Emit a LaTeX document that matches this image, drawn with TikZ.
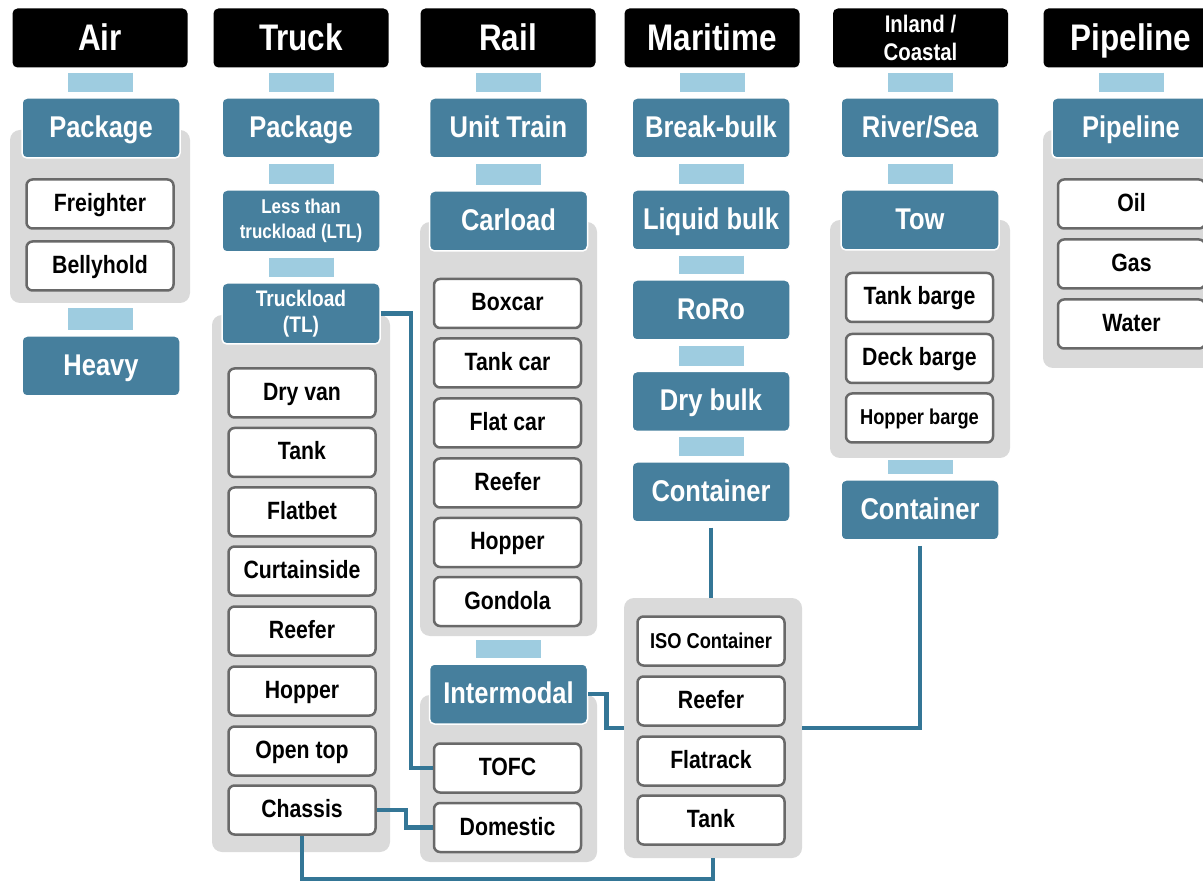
\documentclass[tikz,border=0pt]{standalone}
\usepackage{fontspec}
\setmainfont{Liberation Sans}[FakeStretch=0.85]
\usepackage{xcolor}

\definecolor{modeblue}{RGB}{70,127,157}
\definecolor{tieblue}{RGB}{158,204,224}
\definecolor{panelgray}{RGB}{218,218,218}
\definecolor{itemedge}{RGB}{105,105,105}
\definecolor{routeblue}{RGB}{52,118,150}

\begin{document}
\begin{tikzpicture}[x=1pt, y=-1pt,
	box/.style={rounded corners=5pt, inner sep=0pt, align=center},
	hdr/.style={box, fill=black, text=white, minimum width=175pt, minimum height=59pt,
		font=\bfseries\fontsize{37}{40}\selectfont, text height=27pt, text depth=2pt},
	mode/.style={box, fill=modeblue, draw=white, line width=1.5pt, text=white,
		minimum width=158pt, minimum height=60pt,
		font=\bfseries\fontsize{30}{32}\selectfont, text height=22pt, text depth=3pt},
	item/.style={box, rounded corners=6pt, fill=white, draw=itemedge, line width=2.5pt,
		minimum width=147pt, minimum height=49pt,
		font=\bfseries\fontsize{25}{27}\selectfont, text height=18pt, text depth=3pt},
	small/.style={font=\bfseries\fontsize{21.5}{24}\selectfont, text height=16pt, text depth=2pt},
	twoline/.style={text height=, text depth=},
	panel/.style={rounded corners=10pt, fill=panelgray, inner sep=0pt},
	tie/.style={draw=tieblue, line width=65pt, shorten >=5pt, shorten <=5pt},
	route/.style={draw=routeblue, line width=4.5pt}]
	\clip (0,0) rectangle (1203,882);
	\fill[white] (0,0) rectangle (1203,882);

	% gray panels behind the groups
	\node[panel, minimum width=180pt, minimum height=173pt] (airpanel) at (100,216.5) {};
	\node[panel, minimum width=178pt, minimum height=537pt] (truckpanel) at (301,583.5) {};
	\node[panel, minimum width=177pt, minimum height=414pt] (railpanel) at (508.5,429) {};
	\node[panel, minimum width=177pt, minimum height=167pt] (intpanel) at (508.5,778.5) {};
	\node[panel, minimum width=178pt, minimum height=260pt] (mpanel) at (713,728) {};
	\node[panel, minimum width=180pt, minimum height=238pt] (inlandpanel) at (920,339) {};
	\node[panel, minimum width=180pt, minimum height=238pt] (pipepanel) at (1133,249) {};

	% headers
	\node[hdr] (air) at (100,38) {Air};
	\node[hdr] (truck) at (301,38) {Truck};
	\node[hdr] (rail) at (508,38) {Rail};
	\node[hdr] (maritime) at (712,38) {Maritime};
	\node[hdr, twoline, font=\bfseries\fontsize{24}{28}\selectfont] (inland) at (920.5,38) {Inland /\\Coastal};
	\node[hdr] (pipeline) at (1131,38) {Pipeline};

	% Air
	\node[mode] (airpkg) at (101,128) {Package};
	\node[item] (freighter) at (100,204) {Freighter};
	\node[item] (bellyhold) at (100,266) {Bellyhold};
	\node[mode] (heavy) at (101,366) {Heavy};

	% Truck
	\node[mode] (truckpkg) at (301,128) {Package};
	\node[mode, twoline, minimum height=62pt, font=\bfseries\fontsize{20}{25}\selectfont] (ltl) at (301,221) {Less than\\truckload (LTL)};
	\node[mode, twoline, minimum height=61pt, font=\bfseries\fontsize{22.5}{26}\selectfont] (tl) at (301,313.5) {Truckload\\(TL)};
	\node[item] (dryvan) at (302,393) {Dry van};
	\node[item] (tank) at (302,452.5) {Tank};
	\node[item] (flatbet) at (302,512) {Flatbet};
	\node[item] (curtain) at (302,571) {Curtainside};
	\node[item] (treefer) at (302,631) {Reefer};
	\node[item] (thopper) at (302,691) {Hopper};
	\node[item] (opentop) at (302,751) {Open top};
	\node[item] (chassis) at (302,810) {Chassis};

	% Rail
	\node[mode] (unittrain) at (508.5,128) {Unit Train};
	\node[mode] (carload) at (508.5,221) {Carload};
	\node[item] (boxcar) at (507.5,303.5) {Boxcar};
	\node[item] (tankcar) at (507.5,363) {Tank car};
	\node[item] (flatcar) at (507.5,423) {Flat car};
	\node[item] (rreefer) at (507.5,483) {Reefer};
	\node[item] (rhopper) at (507.5,542.5) {Hopper};
	\node[item] (gondola) at (507.5,601.5) {Gondola};
	\node[mode] (intermodal) at (508.5,694) {Intermodal};
	\node[item] (tofc) at (507.5,768) {TOFC};
	\node[item] (domestic) at (507.5,827.5) {Domestic};

	% Maritime
	\node[mode] (breakbulk) at (711,128) {Break-bulk};
	\node[mode] (liquidbulk) at (711,220) {Liquid bulk};
	\node[mode] (roro) at (711,310) {RoRo};
	\node[mode] (drybulk) at (711,401.5) {Dry bulk};
	\node[mode] (mcont) at (711,492) {Container};
	\node[item, small] (iso) at (711,641) {ISO Container};
	\node[item] (mreefer) at (711,701) {Reefer};
	\node[item] (flatrack) at (711,761) {Flatrack};
	\node[item] (mtank) at (711,820) {Tank};

	% Inland / Coastal
	\node[mode] (riversea) at (920,128) {River/Sea};
	\node[mode] (tow) at (920,220) {Tow};
	\node[item] (tankbarge) at (919.5,297.5) {Tank barge};
	\node[item] (deckbarge) at (919.5,358.5) {Deck barge};
	\node[item, small] (hopperbarge) at (919.5,418) {Hopper barge};
	\node[mode] (icont) at (920,510) {Container};

	% Pipeline
	\node[mode] (pipe) at (1131,128) {Pipeline};
	\node[item] (oil) at (1131.5,204) {Oil};
	\node[item] (gas) at (1131.5,264) {Gas};
	\node[item] (water) at (1131.5,324) {Water};

	% light blue ties
	\draw[tie] (air.south) -- (air.south |- airpkg.north);
	\draw[tie] (airpanel.south) -- (airpanel.south |- heavy.north);
	\draw[tie] (truck.south) -- (truck.south |- truckpkg.north);
	\draw[tie] (truckpkg.south) -- (ltl.north);
	\draw[tie] (ltl.south) -- (tl.north);
	\draw[tie] (rail.south) -- (rail.south |- unittrain.north);
	\draw[tie] (unittrain.south) -- (carload.north);
	\draw[tie, shorten <=4pt] (railpanel.south) -- (intermodal.north);
	\draw[tie] (maritime.south) -- (maritime.south |- breakbulk.north);
	\draw[tie] (breakbulk.south) -- (liquidbulk.north);
	\draw[tie] (liquidbulk.south) -- (roro.north);
	\draw[tie] (roro.south) -- (drybulk.north);
	\draw[tie] (drybulk.south) -- (mcont.north);
	\draw[tie] (inland.south) -- (inland.south |- riversea.north);
	\draw[tie] (riversea.south) -- (tow.north);
	\draw[tie, shorten <=2pt] (inlandpanel.south) -- (inlandpanel.south |- icont.north);
	\draw[tie] (pipeline.south) -- (pipeline.south |- pipe.north);

	% routes between modes
	\draw[route] (tl.east) -- ++(30,0) |- (tofc.west);
	\draw[route] (chassis.east) -- ++(29,0) |- (domestic.west);
	\draw[route] (intermodal.east) -- ++(18,0) |- (mpanel.west);
	\draw[route] (chassis.south) -- ++(0,43) -| (mpanel.south);
	\draw[route, shorten <=5pt] (mcont.south) -- (mcont.south |- mpanel.north);
	\draw[route, shorten <=5pt] (icont.south) |- (mpanel.east);
\end{tikzpicture}
\end{document}
